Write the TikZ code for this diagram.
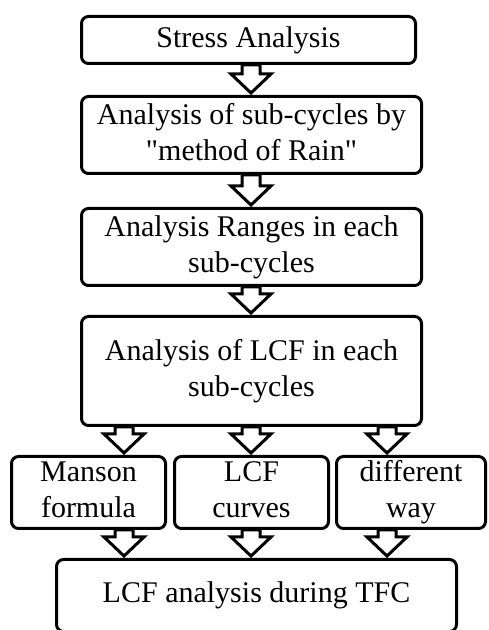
\documentclass[tikz,border=0pt]{standalone}
\usepackage{fontspec}
\setmainfont{Liberation Serif}
\usetikzlibrary{calc}

\tikzset{
  stepbox/.style={draw=black, line width=3pt, rounded corners=7pt, align=center,
    inner sep=0pt, font=\fontsize{30}{36}\selectfont},
  blockarrow/.style={draw=black, line width=3pt, fill=white, line join=miter}
}

% hollow block arrow from the first point down to the second
\newcommand{\hollowarrow}[2]{%
  \draw[blockarrow] let \p1=(#1), \p2=(#2) in
    (\x1-9pt,\y1) -- (\x1+9pt,\y1) -- (\x1+9pt,\y2+21pt) -- (\x1+20pt,\y2+21pt)
    -- (\x1,\y2+2pt) -- (\x1-20pt,\y2+21pt) -- (\x1-9pt,\y2+21pt) -- cycle;}

\begin{document}
\begin{tikzpicture}[x=1pt, y=1pt]

  \useasboundingbox[fill=white] (0,0) rectangle (488,630);

  \node[stepbox, minimum width=334pt, minimum height=47pt] (stress) at (248.5,590) {Stress Analysis\strut};
  \node[stepbox, minimum width=340pt, minimum height=77pt] (rain) at (251.5,495) {Analysis of sub-cycles by\strut\\\textquotedbl method of Rain\textquotedbl\strut};
  \node[stepbox, minimum width=340pt, minimum height=77pt] (ranges) at (251.5,383) {Analysis Ranges in each\strut\\sub-cycles\strut};
  \node[stepbox, minimum width=340pt, minimum height=109pt] (lcf) at (251.5,259) {Analysis of LCF in each\strut\\sub-cycles\strut};

  \node[stepbox, minimum width=154pt, minimum height=72pt] (manson) at (88.5,137.5) {Manson\strut\\formula\strut};
  \node[stepbox, minimum width=154pt, minimum height=72pt] (curves) at (251.5,137.5) {LCF\strut\\curves\strut};
  \node[stepbox, minimum width=149pt, minimum height=72pt] (other) at (411,137.5) {different\strut\\way\strut};

  \node[stepbox, minimum width=400pt, minimum height=72pt] (tfc) at (256.5,34.5) {LCF analysis during TFC\strut};

  \coordinate (colA) at (124,0);
  \coordinate (colB) at (251,0);
  \coordinate (colC) at (387,0);

  \hollowarrow{stress.south -| colB}{rain.north -| colB}
  \hollowarrow{rain.south -| colB}{ranges.north -| colB}
  \hollowarrow{ranges.south -| colB}{lcf.north -| colB}

  \foreach \c/\s in {colA/manson, colB/curves, colC/other} {
    \hollowarrow{lcf.south -| \c}{\s.north -| \c}
    \hollowarrow{\s.south -| \c}{tfc.north -| \c}
  }

\end{tikzpicture}
\end{document}
